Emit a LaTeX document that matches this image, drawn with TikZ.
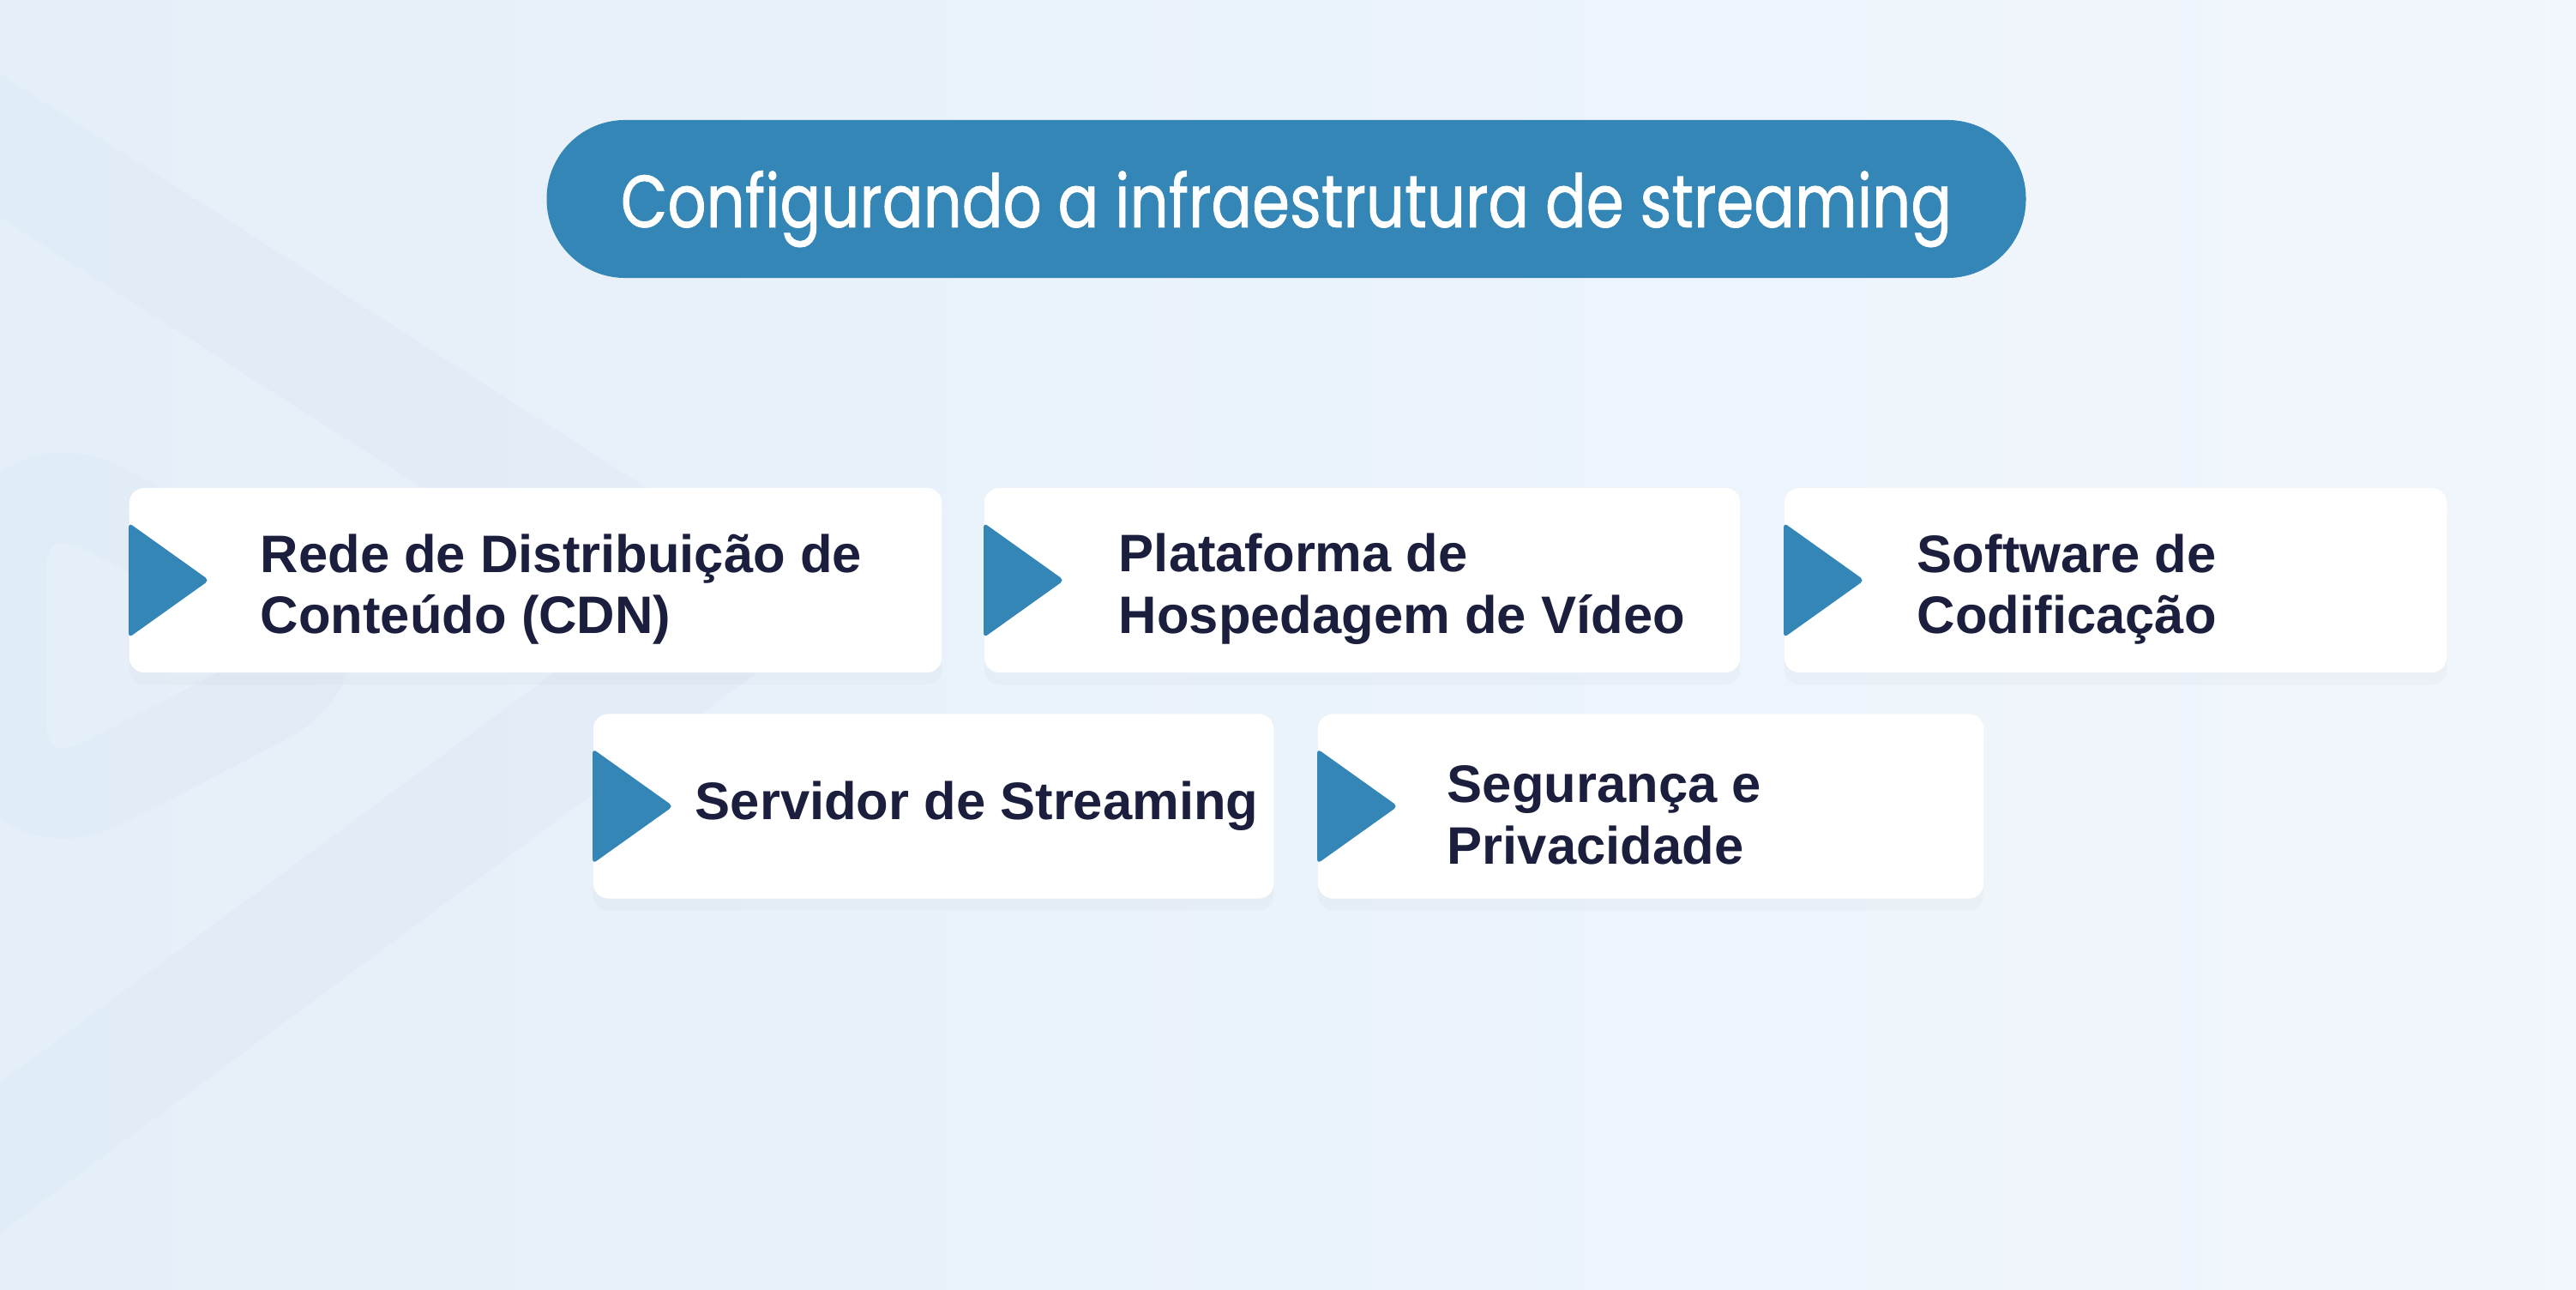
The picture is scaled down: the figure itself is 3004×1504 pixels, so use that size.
\documentclass[tikz,border=0pt]{standalone}
\usepackage{fontspec}
\setmainfont{Liberation Sans}
\newfontfamily\titlefont[FakeStretch=0.82, FakeBold=0.9]{Poppins}
\usetikzlibrary{shadows}
\definecolor{bgblue}{HTML}{E8F1FA}
\definecolor{bgband}{HTML}{DCE9F5}
\definecolor{steel}{HTML}{3386B5}
\definecolor{navy}{HTML}{1B1E3C}
\begin{document}
\begin{tikzpicture}[x=0.01cm, y=-0.01cm,
    card/.style={rectangle, fill=white, rounded corners=5pt, minimum height=2.15cm,
      drop shadow={opacity=0.04, shadow xshift=0pt, shadow yshift=-4pt}},
    cardtext/.style={anchor=west, align=left, text=navy, inner sep=0pt,
      font=\fontsize{17.5}{20.4}\selectfont\bfseries},
    play/.style={fill=steel, rounded corners=1.5pt}]

	% Background
	\useasboundingbox (0,0) rectangle (3004,1504);
	\shade[left color=bgblue!75!bgband, right color=bgblue!60!white] (0,0) rectangle (3004,1504);
	\draw[bgband, line width=40pt, opacity=0.45, line join=round] (-200,42) -- (855,717) -- (-200,1498);
	\draw[bgband, line width=30pt, opacity=0.45, rounded corners=40pt] (0,530) -- (430,753) -- (0,975) -- cycle;

	% Title
	\node[fill=steel, rounded corners=26pt, minimum width=17.24cm, minimum height=1.84cm,
	  text depth=0pt, text=white, font=\titlefont\fontsize{24.5}{28}\selectfont] (title) at (1500,232)
	  {Configurando a infraestrutura de streaming};

	% Cards, first row
	\node[card, minimum width=9.47cm] (cdn) at (624.5,676.5) {};
	\node[card, minimum width=8.81cm] (host) at (1588.5,676.5) {};
	\node[card, minimum width=7.72cm] (codec) at (2467,676.5) {};

	% Cards, second row
	\node[card, minimum width=7.93cm] (server) at (1088.5,940) {};
	\node[card, minimum width=7.76cm] (secure) at (1925,940) {};

	% Play marks
	\foreach \c in {cdn, host, codec, server, secure}
	  \fill[play] (\c.west) ++(0,-67) -- ++(94,67) -- ++(-94,67) -- cycle;

	% Card labels
	\node[cardtext] (cdn-t) at ([xshift=1.53cm, yshift=-3pt]cdn.west) {Rede de Distribuição de\\Conteúdo (CDN)};
	\node[cardtext] (host-t) at ([xshift=1.57cm, yshift=-3pt]host.west) {Plataforma de\\Hospedagem de Vídeo};
	\node[cardtext] (codec-t) at ([xshift=1.55cm, yshift=-3pt]codec.west) {Software de\\Codificação};
	\node[cardtext] (server-t) at ([xshift=1.19cm]server.west) {Servidor de Streaming};
	\node[cardtext] (secure-t) at ([xshift=1.51cm, yshift=-3pt]secure.west) {Segurança e\\Privacidade};

\end{tikzpicture}
\end{document}
